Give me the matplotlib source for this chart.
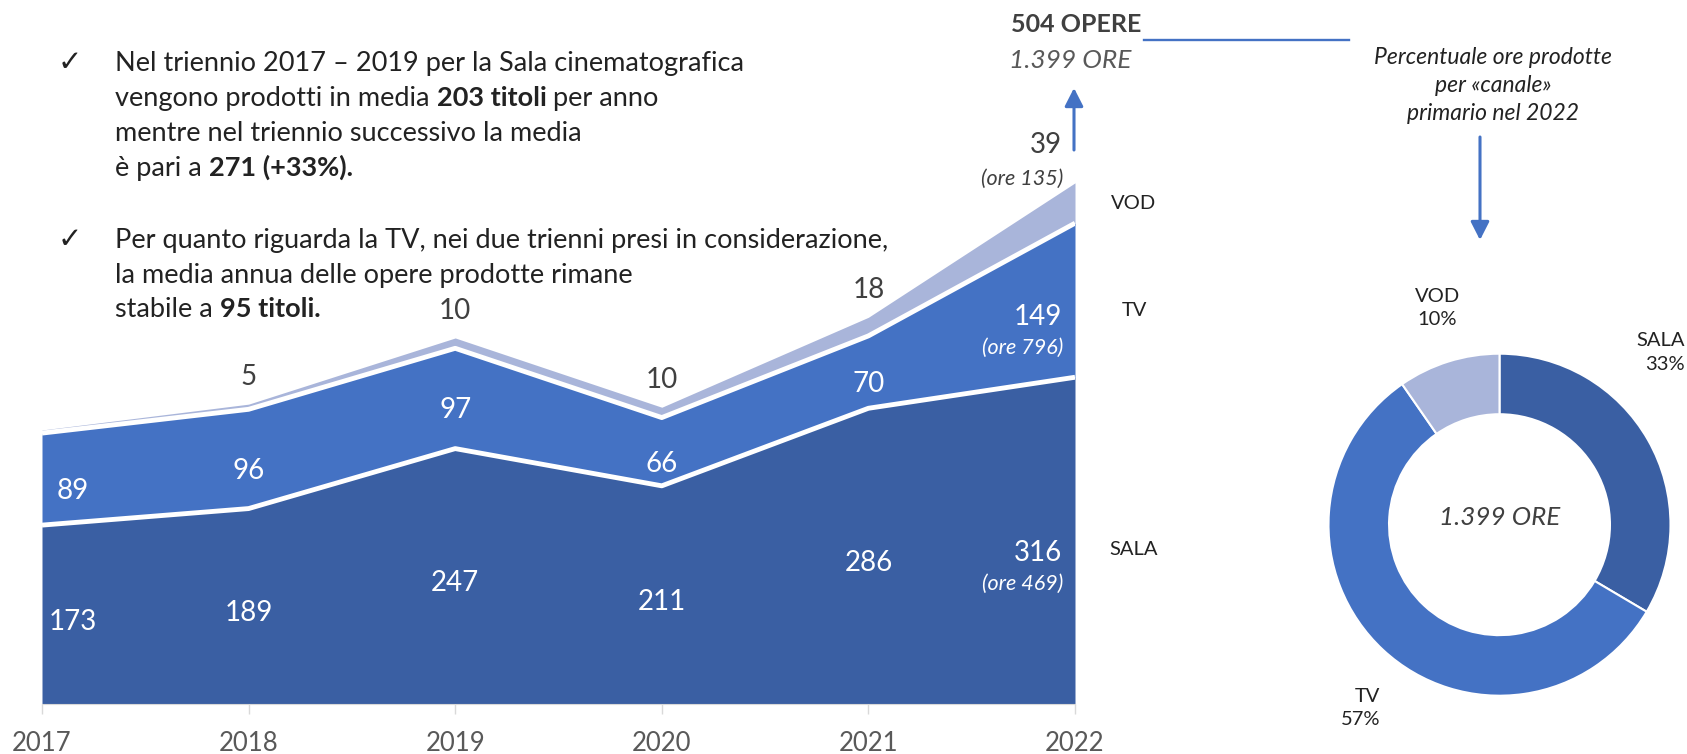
import matplotlib.pyplot as plt
from matplotlib.lines import Line2D
from matplotlib.patches import FancyArrowPatch

# dati
anni = [2017, 2018, 2019, 2020, 2021, 2022]
sala = [173, 189, 247, 211, 286, 316]
tv = [89, 96, 97, 66, 70, 149]
vod = [3, 5, 10, 10, 18, 39]
canali = ['SALA', 'TV', 'VOD']
ore_2022 = [469, 796, 135]
perc_2022 = ['33%', '57%', '10%']
ore_totali = '1.399'

C_SALA = '#3A5FA3'
C_TV = '#4472C4'
C_VOD = '#A9B5DA'
BLU = '#4472C4'
GRIGIO = '#404040'
NERO = '#222222'

W, H = 1687, 754
plt.rcParams['font.family'] = ['Lato', 'DejaVu Sans']
fig = plt.figure(figsize=(W / 100, H / 100), dpi=100)


def fpos(x, y):
    # pixel (dall'alto) -> frazione della figura
    return x / W, 1 - y / H


# area impilata
ax = fig.add_axes([42 / W, 50 / H, 1033 / W, 620.4 / H])
s_top = [a for a in sala]
t_top = [a + b for a, b in zip(sala, tv)]
v_top = [a + b for a, b in zip(t_top, vod)]
ax.fill_between(anni, 0, s_top, color=C_SALA, lw=0)
ax.fill_between(anni, s_top, t_top, color=C_TV, lw=0)
ax.fill_between(anni, t_top, v_top, color=C_VOD, lw=0)
ax.plot(anni, s_top, color='white', lw=3.5, solid_capstyle='butt')
ax.plot(anni, t_top, color='white', lw=3.5, solid_capstyle='butt')
ax.set_xlim(2017, 2022)
ax.set_ylim(0, 600)
ax.set_yticks([])
ax.set_xticks(anni, [str(a) for a in anni])
ax.tick_params(axis='x', length=7, color='#d9d9d9', width=1, labelsize=18.5,
               labelcolor='#595959', pad=12.5)
for s in ['top', 'right', 'left']:
    ax.spines[s].set_visible(False)
ax.spines['bottom'].set_color('#d9d9d9')


def dx_for(i):
    if i == 0:
        return 31, 'center'
    if i == len(anni) - 1:
        return -13, 'right'
    return 0, 'center'


FS = 20
last = len(anni) - 1
for i, a in enumerate(anni):
    dx, ha = dx_for(i)
    extra = -5 if i == last else 0
    # SALA
    ax.annotate(str(sala[i]), (a, sala[i] / 2), xytext=(dx, -7 + extra), textcoords='offset pixels',
                ha=ha, va='center', color='white', fontsize=FS)
    # TV
    ax.annotate(str(tv[i]), (a, sala[i] + tv[i] / 2), xytext=(dx, -12 + extra), textcoords='offset pixels',
                ha=ha, va='center', color='white', fontsize=FS)
    # VOD
    if i > 0:
        dy = 38 if i == last else 27
        ax.annotate(str(vod[i]), (a, v_top[i]), xytext=(dx, dy), textcoords='offset pixels',
                    ha=ha, va='center', color=GRIGIO, fontsize=FS, annotation_clip=False)

# ore 2022
FO = 15.5
ax.annotate('(ore %d)' % ore_2022[0], (anni[last], sala[last] / 2), xytext=(-12, -43),
            textcoords='offset pixels', ha='right', va='center', color='white',
            fontsize=FO, style='italic')
ax.annotate('(ore %d)' % ore_2022[1], (anni[last], sala[last] + tv[last] / 2), xytext=(-12, -48),
            textcoords='offset pixels', ha='right', va='center', color='white',
            fontsize=FO, style='italic')
ax.annotate('(ore %d)' % ore_2022[2], (anni[last], v_top[last]), xytext=(-12, 4),
            textcoords='offset pixels', ha='right', va='center', color=GRIGIO,
            fontsize=FO, style='italic', annotation_clip=False)

# etichette canali a destra
mids = [sala[last] / 2, sala[last] + tv[last] / 2, t_top[last] + vod[last] / 2]
for nome, m, dy in zip(canali, mids, [-9, -10, 0]):
    ax.annotate(nome, (anni[last], m), xytext=(59, dy), textcoords='offset pixels',
                ha='center', va='center', color=NERO, fontsize=14.5, annotation_clip=False)

# totale in alto
tot = v_top[last]
fig.text(*fpos(1011, 32), '%d OPERE' % tot, fontsize=18, fontweight='bold', color=GRIGIO,
         va='baseline')
fig.text(*fpos(1009, 68), '%s ORE' % ore_totali, fontsize=19, style='italic', color='#595959',
         va='baseline')
fig.add_artist(Line2D([1144 / W, 1349 / W], [1 - 40 / H, 1 - 40 / H], color=BLU, lw=1.7))
fig.add_artist(FancyArrowPatch(fpos(1074, 150), fpos(1074, 88), transform=fig.transFigure,
                               arrowstyle='-|>,head_length=0.55,head_width=0.28',
                               mutation_scale=20, lw=2.2, color=BLU, shrinkA=0, shrinkB=0))
fig.add_artist(FancyArrowPatch(fpos(1480, 137), fpos(1480, 240), transform=fig.transFigure,
                               arrowstyle='-|>,head_length=0.55,head_width=0.28',
                               mutation_scale=20, lw=2.2, color=BLU, shrinkA=0, shrinkB=0))
for y, riga in zip([57, 85, 113], ['Percentuale ore prodotte', 'per «canale»', 'primario nel 2022']):
    fig.text(*fpos(1493, y), riga, fontsize=16.5, style='italic', color=NERO,
             ha='center', va='center')

# testo a sinistra
righe = [
    (71, [('Nel triennio 2017 – 2019 per la Sala cinematografica', 'normal')]),
    (106, [('vengono prodotti in media ', 'normal'), ('203 titoli', 'bold'), (' per anno', 'normal')]),
    (141, [('mentre nel triennio successivo la media', 'normal')]),
    (176, [('è pari a ', 'normal'), ('271 (+33%).', 'bold')]),
    (248, [('Per quanto riguarda la TV, nei due trienni presi in considerazione,', 'normal')]),
    (283, [('la media annua delle opere prodotte rimane', 'normal')]),
    (317, [('stabile a ', 'normal'), ('95 titoli.', 'bold')]),
]
renderer = fig.canvas.get_renderer()
for y, parti in righe:
    x = 115
    for testo, peso in parti:
        t = fig.text(*fpos(x, y), testo, fontsize=19.5, fontweight=peso, color=NERO, va='baseline')
        x += t.get_window_extent(renderer).width
for y in [71, 248]:
    fig.text(*fpos(58, y), '✓', fontsize=21, color=NERO, va='baseline', family='DejaVu Sans')

# ciambella
cx, cy, r = 1499.5, 524.7, 171
ax2 = fig.add_axes([(cx - r) / W, (H - cy - r) / H, 2 * r / W, 2 * r / H])
ax2.pie(ore_2022, colors=[C_SALA, C_TV, C_VOD], startangle=90, counterclock=False, radius=1,
        wedgeprops=dict(width=0.354, edgecolor='white', linewidth=1.5))
ax2.set_xlim(-1, 1)
ax2.set_ylim(-1, 1)
ax2.set_aspect('equal')
ax2.axis('off')
ax2.text(0, 0.04, '%s ORE' % ore_totali, fontsize=18.7, style='italic', color=GRIGIO,
         ha='center', va='center')
pos_lab = [(1.085, 1.007, 'right'), (-0.699, -1.072, 'right'), (-0.365, 1.267, 'center')]
for nome, p, (lx, ly, ha) in zip(canali, perc_2022, pos_lab):
    ax2.text(lx, ly, nome + '\n' + p, fontsize=14.5, color=NERO, ha=ha, va='center',
             multialignment=ha, linespacing=1.45, clip_on=False)

fig.savefig('out.png', dpi=100)
